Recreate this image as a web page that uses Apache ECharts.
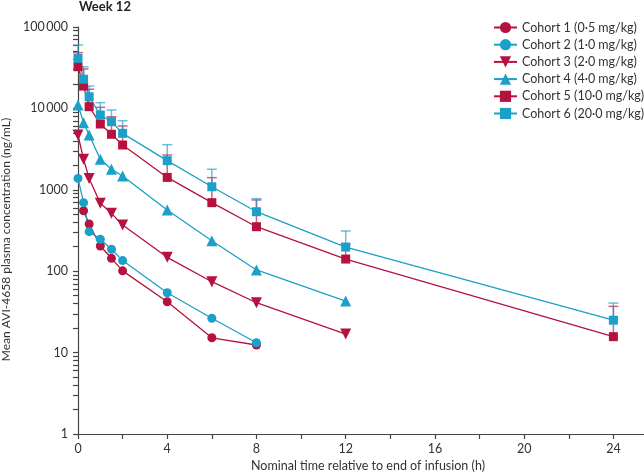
<!DOCTYPE html>
<html><head><meta charset="utf-8">
<script src="https://cdn.jsdelivr.net/npm/echarts@6/dist/echarts.min.js"></script>
<style>html,body{margin:0;padding:0;background:#fff}#c{width:644px;height:474px}</style>
</head><body><div id="c"></div>
<script>
var FONT = 'Lato';
var times = [0, 0.25, 0.5, 1, 1.5, 2, 4, 6, 8, 12, 24];
var names = ['Cohort 1 (0·5 mg/kg)', 'Cohort 2 (1·0 mg/kg)', 'Cohort 3 (2·0 mg/kg)',
             'Cohort 4 (4·0 mg/kg)', 'Cohort 5 (10·0 mg/kg)', 'Cohort 6 (20·0 mg/kg)'];
// mean concentrations (ng/mL); null = no sample
var cohort1 = [null, 553, 380, 204, 144, 101, 42.2, 15.2, 12.4, null, null];
var cohort2 = [1380, 695, 306, 247, 186, 135, 54.4, 26.4, 13.2, null, null];
var cohort3 = [4710, 2370, 1380, 683, 514, 370, 148, 74.3, 41, 16.9, null];
var cohort4 = [11000, 6680, 4710, 2370, 1790, 1480, 565, 237, 103.5, 43, null];
var cohort5 = [32500, 18800, 10500, 6430, 4810, 3550, 1420, 695, 352, 141, 15.7];
var cohort6 = [41200, 22800, 13900, 8300, 6870, 4940, 2280, 1090, 538, 198, 25];
// upper end of error bars (mean + SD)
var cohort5Upper = [48400, 30500, 17200, 10300, 7900, 6080, 2680, 1410, 750, 215, 37];
var cohort6Upper = [60100, 32500, 18840, 11750, 9550, 7060, 3580, 1790, 778, 312, 40.6];
var xTicks = [0, 4, 8, 12, 16, 20, 24];
var xMinorTicks = [0, 2, 4, 6, 8, 10, 12, 14, 16, 18, 20, 22, 24];
var yTicks = [1, 10, 100, 1000, 10000, 100000];

var yAllTicks = [];
for (var k = 0; k < 5; k++) for (var m = 1; m <= 9; m++) yAllTicks.push(m * Math.pow(10, k));
yAllTicks.push(100000);

var RED = '#B5123F', CYAN = '#1BA0C7';
var colors = [RED, CYAN, RED, CYAN, RED, CYAN];
var symbols = ['circle', 'circle', 'triangle', 'triangle', 'rect', 'rect'];
var rotates = [0, 0, 180, 0, 0, 0];
var sizes = [9, 9, 11, 11, 9, 9];
var allData = [cohort1, cohort2, cohort3, cohort4, cohort5, cohort6];

function pairs(arr) {
  var out = [];
  for (var i = 0; i < times.length; i++) if (arr[i] != null) out.push([times[i], arr[i]]);
  return out;
}
function errData(mean, upper) {
  var out = [];
  for (var i = 0; i < times.length; i++) if (mean[i] != null) out.push([times[i], mean[i], upper[i]]);
  return out;
}
function errSeries(mean, upper, color) {
  return {
    type: 'custom', silent: true, z: 1, clip: false,
    data: errData(mean, upper),
    encode: { x: 0, y: 1 },
    renderItem: function (params, api) {
      var p0 = api.coord([api.value(0), api.value(1)]);
      var p1 = api.coord([api.value(0), api.value(2)]);
      var st = { stroke: color, lineWidth: 1.5, opacity: 0.65 };
      return { type: 'group', children: [
        { type: 'line', shape: { x1: p0[0], y1: p0[1], x2: p1[0], y2: p1[1] }, style: st },
        { type: 'line', shape: { x1: p1[0] - 5, y1: p1[1], x2: p1[0] + 5, y2: p1[1] }, style: st }
      ]};
    }
  };
}

var series = [];
series.push(errSeries(cohort5, cohort5Upper, RED));
series.push(errSeries(cohort6, cohort6Upper, CYAN));
for (var s = 0; s < 6; s++) {
  series.push({
    name: names[s], type: 'line', z: 2,
    data: pairs(allData[s]),
    symbol: symbols[s], symbolSize: sizes[s], symbolRotate: rotates[s],
    showAllSymbol: true,
    itemStyle: { color: colors[s], opacity: 1 },
    lineStyle: { color: colors[s], width: 1.3 },
    emphasis: { disabled: true }
  });
}

var chart = echarts.init(document.getElementById('c'), null, { renderer: 'canvas' });
chart.setOption({
  animation: false,
  textStyle: { fontFamily: FONT },
  title: { text: 'Week 12', left: 79, top: 0, padding: 0,
    textStyle: { fontFamily: FONT, fontSize: 13, fontWeight: 'bold', color: '#222' } },
  legend: {
    data: names, orient: 'vertical', left: 488, top: 16,
    itemWidth: 23, itemHeight: 14, itemGap: 4.2,
    textStyle: { fontFamily: FONT, fontSize: 12.5, color: '#333' }
  },
  grid: { left: 78, top: 27, width: 580, height: 407, containLabel: false, outerBoundsMode: 'none' },
  xAxis: {
    type: 'value', min: 0, max: 26,
    name: 'Nominal time relative to end of infusion (h)',
    nameLocation: 'middle', nameGap: 21,
    nameTextStyle: { fontFamily: FONT, fontSize: 12.5, color: '#333' },
    axisLine: { lineStyle: { color: '#444', width: 1.2 } },
    axisTick: { show: true, length: 5, lineStyle: { color: '#444', width: 1.2 }, customValues: xMinorTicks },
    axisLabel: { margin: 8, fontFamily: FONT, fontSize: 12.5, color: '#333', customValues: xTicks },
    splitLine: { show: false }
  },
  yAxis: {
    type: 'log', logBase: 10, min: 1, max: 100000,
    name: 'Mean AVI-4658 plasma concentration (ng/mL)',
    nameLocation: 'middle', nameGap: 64, nameRotate: 90,
    nameTextStyle: { fontFamily: FONT, fontSize: 12, color: '#333', padding: [0, 18, 0, 0] },
    axisLine: { show: true, lineStyle: { color: '#444', width: 1.2 } },
    axisTick: { show: true, inside: false, length: 5, lineStyle: { color: '#444', width: 1.2 }, customValues: yAllTicks },
    axisLabel: { margin: 10, fontFamily: FONT, fontSize: 12.5, color: '#333', customValues: yTicks,
      formatter: function (v) {
        return v >= 10000 ? String(v).replace(/(\d)(?=(\d{3})+$)/g, '$1\u2009') : String(v);
      } },
    splitLine: { show: false }
  },
  series: series
});
</script></body></html>
